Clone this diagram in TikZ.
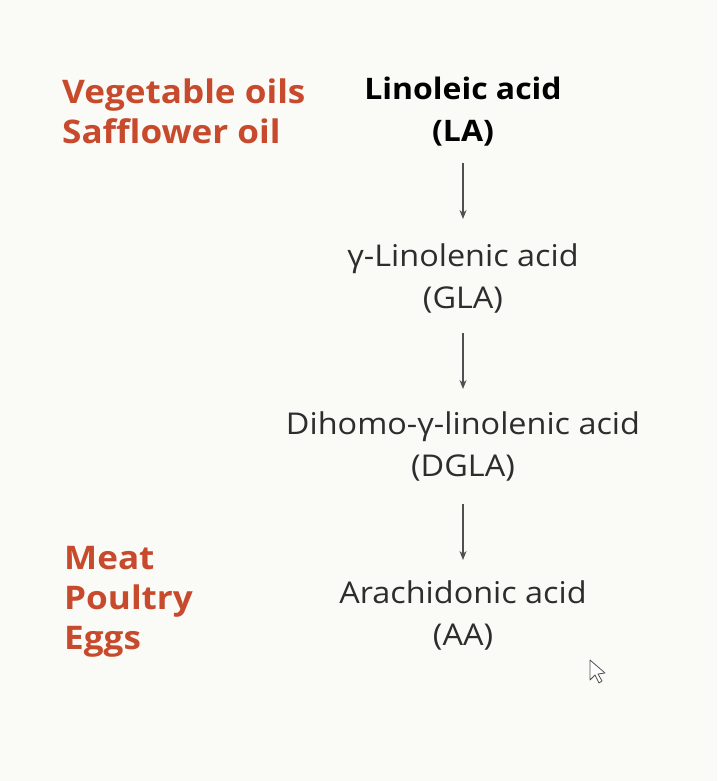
\documentclass[tikz,border=0pt]{standalone}
\usepackage{fontspec}
\setmainfont{Open Sans}[FakeStretch=1.08]
\usetikzlibrary{arrows.meta}
\definecolor{bg}{RGB}{250,250,247}
\definecolor{src}{RGB}{200,74,44}
\definecolor{txt}{RGB}{45,45,45}
\definecolor{arr}{RGB}{80,80,80}
\begin{document}
\begin{tikzpicture}[x=1pt,y=-1pt,
  srcbox/.style={anchor=west,align=left,text=src,font=\fontsize{32.5}{40}\selectfont\bfseries,inner sep=0pt},
  acidbox/.style={align=center,text=txt,font=\fontsize{30}{42}\selectfont,inner sep=0pt},
  headbox/.style={align=center,text=black,font=\fontsize{29.6}{42}\selectfont\bfseries,inner sep=0pt},
  conn/.style={draw=arr,line width=1.2pt,-{Stealth[length=9pt,width=7pt]}}]
\fill[bg] (0,0) rectangle (717,781);
\useasboundingbox (0,0) rectangle (717,781);
\node[srcbox] (veg) at (62,111) {Vegetable oils\\Safflower oil};
\node[srcbox] (meat) at (64,602) {Meat\\Poultry\\Eggs};
\node[headbox] (la) at (463,112) {Linoleic acid\\(LA)};
\node[acidbox] (gla) at (463,278) {γ-Linolenic acid\\(GLA)};
\node[acidbox] (dgla) at (463,446) {Dihomo-γ-linolenic acid\\(DGLA)};
\node[acidbox] (aa) at (463,615) {Arachidonic acid\\(AA)};
\coordinate (a1s) at (463,163); \coordinate (a1e) at (463,219);
\coordinate (a2s) at (463,333); \coordinate (a2e) at (463,389);
\coordinate (a3s) at (463,504); \coordinate (a3e) at (463,560);
\draw[conn] (a1s) -- (a1e);
\draw[conn] (a2s) -- (a2e);
\draw[conn] (a3s) -- (a3e);
\draw[draw=arr,fill=white,line width=0.8pt,line join=round] (590,660) -- (590,680) -- (595,675) -- (599,683) -- (602,681) -- (598,674) -- (605,673) -- cycle;
\end{tikzpicture}
\end{document}
